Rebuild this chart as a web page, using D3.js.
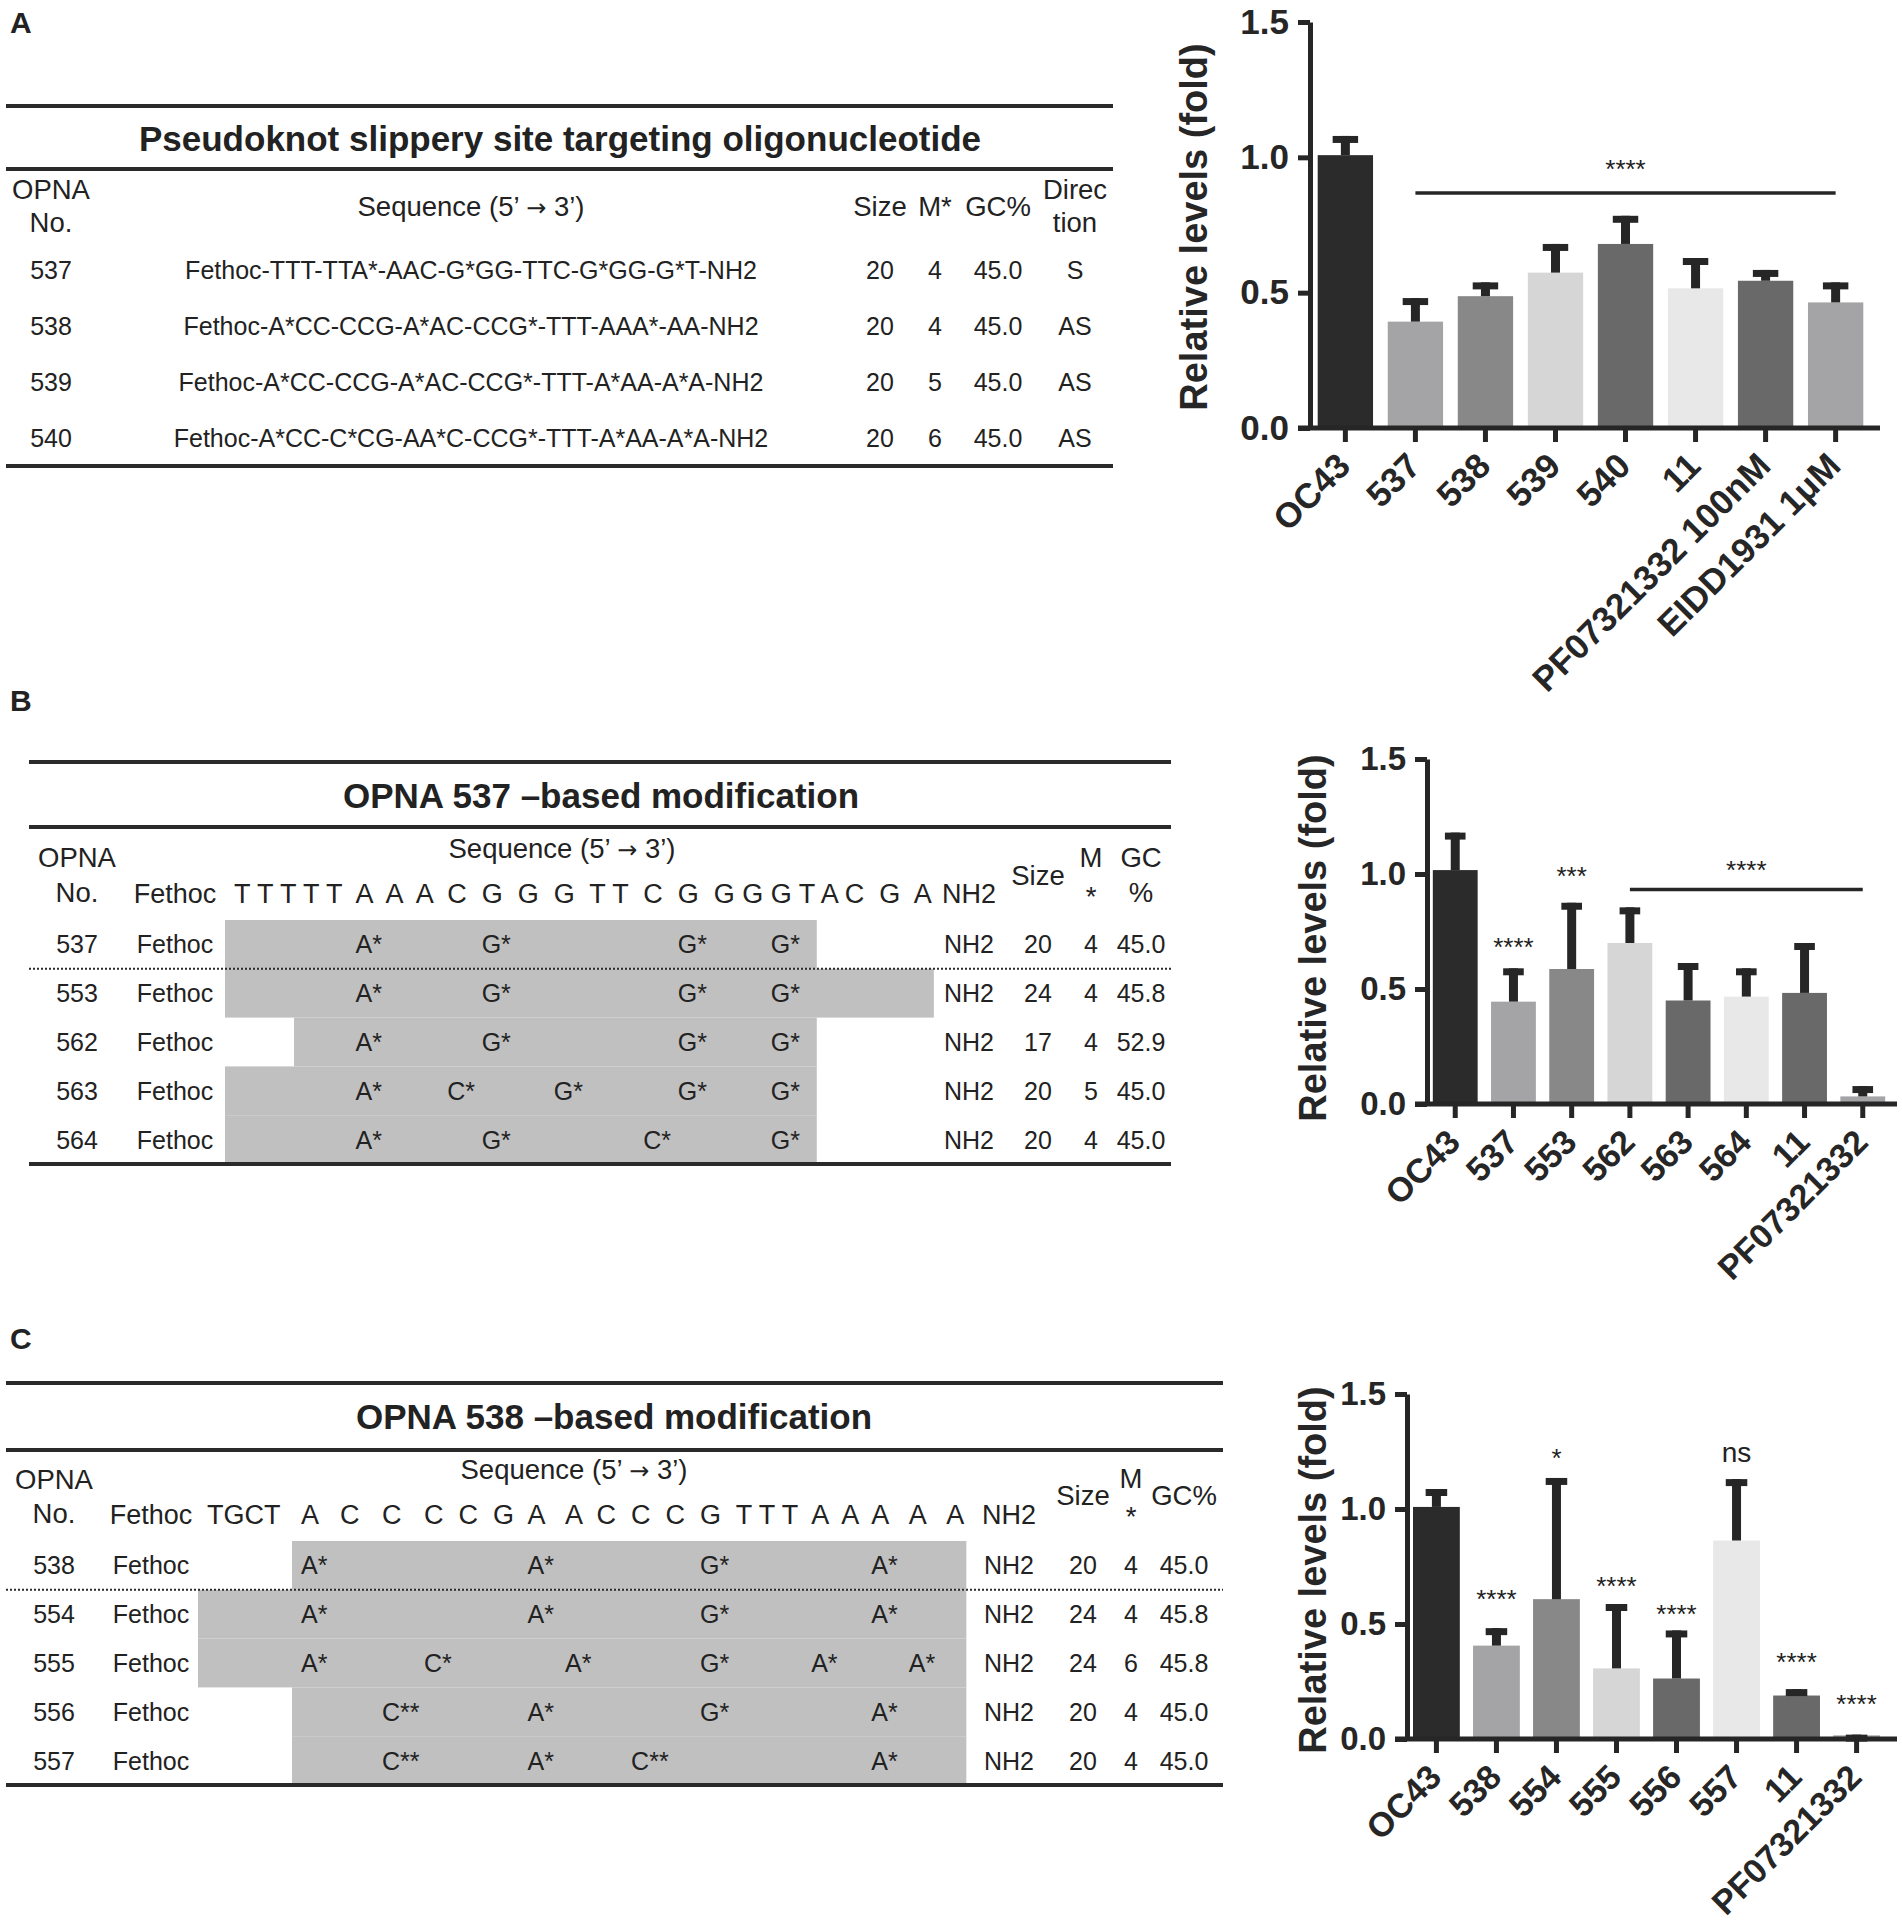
<!DOCTYPE html>
<html>
<head>
<meta charset="utf-8">
<script src="https://cdn.jsdelivr.net/npm/d3@7"></script>
<style>
  body { margin: 0; background: #fff; }
  svg text { font-family: 'Liberation Sans', Arial, Helvetica, sans-serif; fill: #222; }
</style>
</head>
<body>
<svg id="fig" width="1902" height="1926"></svg>
<script>
// ---------- panel A table ----------
const tabA_no   = ['537', '538', '539', '540'];
const tabA_seq  = ['Fethoc-TTT-TTA*-AAC-G*GG-TTC-G*GG-G*T-NH2',
                   'Fethoc-A*CC-CCG-A*AC-CCG*-TTT-AAA*-AA-NH2',
                   'Fethoc-A*CC-CCG-A*AC-CCG*-TTT-A*AA-A*A-NH2',
                   'Fethoc-A*CC-C*CG-AA*C-CCG*-TTT-A*AA-A*A-NH2'];
const tabA_size = [20, 20, 20, 20];
const tabA_m    = [4, 4, 5, 6];
const tabA_gc   = ['45.0', '45.0', '45.0', '45.0'];
const tabA_dir  = ['S', 'AS', 'AS', 'AS'];

// ---------- panel B table ----------
const tabB_header = 'T T T T T  A  A  A  C  G  G  G  T T  C  G  G G G T A C  G  A';
const tabB_no   = ['537', '553', '562', '563', '564'];
const tabB_from = [0, 0, 3, 0, 0];
const tabB_to   = [19, 23, 19, 19, 19];
const tabB_mods = [
  [[5, 'A*'], [9, 'G*'], [15, 'G*'], [18, 'G*']],
  [[5, 'A*'], [9, 'G*'], [15, 'G*'], [18, 'G*']],
  [[5, 'A*'], [9, 'G*'], [15, 'G*'], [18, 'G*']],
  [[5, 'A*'], [8, 'C*'], [11, 'G*'], [15, 'G*'], [18, 'G*']],
  [[5, 'A*'], [9, 'G*'], [14, 'C*'], [18, 'G*']]
];
const tabB_size = [20, 24, 17, 20, 20];
const tabB_m    = [4, 4, 4, 5, 4];
const tabB_gc   = ['45.0', '45.8', '52.9', '45.0', '45.0'];

// ---------- panel C table ----------
const tabC_header = 'TGCT   A   C   C   C  C  G  A   A  C  C  C  G  T T T  A  A  A   A   A';
const tabC_no   = ['538', '554', '555', '556', '557'];
const tabC_from = [4, 0, 0, 4, 4];
const tabC_to   = [23, 23, 23, 23, 23];
const tabC_mods = [
  [[4, 'A*'], [10, 'A*'], [15, 'G*'], [21, 'A*']],
  [[4, 'A*'], [10, 'A*'], [15, 'G*'], [21, 'A*']],
  [[4, 'A*'], [7, 'C*'], [11, 'A*'], [15, 'G*'], [19, 'A*'], [22, 'A*']],
  [[6, 'C**'], [10, 'A*'], [15, 'G*'], [21, 'A*']],
  [[6, 'C**'], [10, 'A*'], [13, 'C**'], [21, 'A*']]
];
const tabC_size = [20, 24, 24, 20, 20];
const tabC_m    = [4, 4, 6, 4, 4];
const tabC_gc   = ['45.0', '45.8', '45.8', '45.0', '45.0'];

// ---------- bar charts ----------
const catsA  = ['OC43', '537', '538', '539', '540', '11', 'PF07321332 100nM', 'EIDD1931 1μM'];
const meansA = [1.008, 0.393, 0.487, 0.574, 0.680, 0.516, 0.544, 0.464];
const sdA    = [0.071, 0.087, 0.051, 0.106, 0.104, 0.112, 0.040, 0.074];
const sigLinesA = [{ from: '537', to: 'EIDD1931 1μM', v: 0.868, label: '****', lv: 0.979 }];
const sigMarksA = [];

const catsB  = ['OC43', '537', '553', '562', '563', '564', '11', 'PF07321332'];
const meansB = [1.017, 0.445, 0.587, 0.700, 0.450, 0.467, 0.483, 0.033];
const sdB    = [0.163, 0.145, 0.288, 0.155, 0.163, 0.123, 0.217, 0.045];
const sigLinesB = [{ from: '562', to: 'PF07321332', v: 0.933, label: '****', lv: 1.042 }];
const sigMarksB = [{ cat: '537', label: '****', v: 0.708 }, { cat: '553', label: '***', v: 1.017 }];

const catsC  = ['OC43', '538', '554', '555', '556', '557', '11', 'PF07321332'];
const meansC = [1.009, 0.406, 0.608, 0.307, 0.263, 0.863, 0.189, 0.016];
const sdC    = [0.078, 0.076, 0.527, 0.280, 0.209, 0.267, 0.028, 0.003];
const sigLinesC = [];
const sigMarksC = [
  { cat: '538', label: '****', v: 0.635 }, { cat: '554', label: '*', v: 1.248 },
  { cat: '555', label: '****', v: 0.690 }, { cat: '556', label: '****', v: 0.570 },
  { cat: '557', label: 'ns', v: 1.240 },   { cat: '11', label: '****', v: 0.360 },
  { cat: 'PF07321332', label: '****', v: 0.180 }
];

const yTicks = [0, 0.5, 1.0, 1.5];

// grey shades used by the bars, in category order
const barFills = ['#2b2b2b', '#a4a4a7', '#888888', '#d6d6d6', '#696969', '#e8e8e8', '#696969', '#a4a4a7'];
const INK = '#262626';

const svg = d3.select('#fig');
svg.append('rect').attr('width', 1902).attr('height', 1926).attr('fill', '#fff');

function hline(y, x0, x1, w, dash) {
  svg.append('line')
    .attr('x1', x0).attr('x2', x1).attr('y1', y).attr('y2', y)
    .attr('stroke', '#2a2a2a').attr('stroke-width', w || 4)
    .attr('stroke-dasharray', dash || null);
}

function txt(x, y, s, size, anchor, weight) {
  return svg.append('text')
    .attr('x', x).attr('y', y)
    .attr('font-size', size)
    .attr('font-weight', weight || 'normal')
    .attr('text-anchor', anchor || 'middle')
    .text(s);
}

// "Sequence (5' -> 3')" with a proper long arrow
function seqHead(x, y) {
  const t = txt(x, y, null, 27.5);
  t.append('tspan').text('Sequence (5\u2019 ');
  t.append('tspan').attr('font-family', "'DejaVu Sans'").attr('font-size', 24).text('\u2192');
  t.append('tspan').text(' 3\u2019)');
}

// panel letters
txt(10, 33, 'A', 30, 'start', 'bold');
txt(10, 711, 'B', 30, 'start', 'bold');
txt(10, 1349, 'C', 30, 'start', 'bold');

// ---------- table A ----------
hline(106, 6, 1113);
txt(560, 151, 'Pseudoknot slippery site targeting oligonucleotide', 35, 'middle', 'bold');
hline(169, 6, 1113);
txt(51, 199, 'OPNA', 27.5);
txt(51, 232, 'No.', 27.5);
seqHead(471, 216);
txt(880, 216, 'Size', 27.5);
txt(935, 216, 'M*', 27.5);
txt(998, 216, 'GC%', 27.5);
txt(1075, 199, 'Direc', 27.5);
txt(1075, 232, 'tion', 27.5);

const rowA = d3.scaleBand().domain(tabA_no).range([242, 466]);
tabA_no.forEach((no, i) => {
  const yb = rowA(no) + rowA.bandwidth() / 2 + 9;
  txt(51, yb, no, 25);
  txt(471, yb, tabA_seq[i], 25);
  txt(880, yb, tabA_size[i], 25);
  txt(935, yb, tabA_m[i], 25);
  txt(998, yb, tabA_gc[i], 25);
  txt(1075, yb, tabA_dir[i], 25);
});
hline(466, 6, 1113);

// ---------- modification tables (B, C) ----------
function seqTable(t) {
  const shade = svg.append('g');
  // header letters, then read where every base sits
  const hdr = svg.append('text')
    .attr('x', t.letterX).attr('y', t.headY)
    .attr('font-size', 27)
    .attr('xml:space', 'preserve')
    .style('white-space', 'pre')
    .text(t.header);
  const node = hdr.node();
  const pos = [];
  for (let i = 0; i < t.header.length; i++) {
    if (t.header[i] === ' ') continue;
    const e = node.getExtentOfChar(i);
    pos.push({ x: e.x, w: e.width });
  }

  const row = d3.scaleBand().domain(t.no).range([t.rowTop, t.rowBottom]);
  t.no.forEach((no, i) => {
    const a = pos[t.from[i]], b = pos[t.to[i]];
    shade.append('rect')
      .attr('x', a.x - 9).attr('width', b.x + b.w + 2 - (a.x - 9))
      .attr('y', row(no)).attr('height', row.bandwidth())
      .attr('fill', '#c0c0c0');
    const yb = row(no) + row.bandwidth() / 2 + 9;
    txt(t.noX, yb, no, 25);
    txt(t.fethocX, yb, 'Fethoc', 25);
    t.mods[i].forEach(m => txt(pos[m[0]].x, yb, m[1], 25, 'start'));
    txt(t.nh2X, yb, 'NH2', 25);
    txt(t.sizeX, yb, t.size[i], 25);
    txt(t.mX, yb, t.m[i], 25);
    txt(t.gcX, yb, t.gc[i], 25);
  });
  hline(t.rowTop + row.bandwidth(), t.x0, t.x1, 2, '2,2');
  hline(t.rowBottom, t.x0, t.x1);
}

// table B
hline(762, 29, 1171);
txt(601, 808, 'OPNA 537 \u2013based modification', 35, 'middle', 'bold');
hline(827, 29, 1171);
seqHead(562, 858);
txt(77, 867, 'OPNA', 27.5);
txt(77, 902, 'No.', 27.5);
txt(175, 903, 'Fethoc', 27);
txt(969, 903, 'NH2', 27);
txt(1038, 885, 'Size', 27.5);
txt(1091, 867, 'M', 27.5);
txt(1091, 906, '*', 27.5);
txt(1141, 867, 'GC', 27.5);
txt(1141, 902, '%', 27.5);
seqTable({
  header: tabB_header, letterX: 234, headY: 903,
  no: tabB_no, from: tabB_from, to: tabB_to, mods: tabB_mods,
  size: tabB_size, m: tabB_m, gc: tabB_gc,
  rowTop: 920, rowBottom: 1164, x0: 29, x1: 1171,
  noX: 77, fethocX: 175, nh2X: 969, sizeX: 1038, mX: 1091, gcX: 1141
});

// table C
hline(1383, 6, 1223);
txt(614, 1429, 'OPNA 538 \u2013based modification', 35, 'middle', 'bold');
hline(1450, 6, 1223);
seqHead(574, 1479);
txt(54, 1489, 'OPNA', 27.5);
txt(54, 1523, 'No.', 27.5);
txt(151, 1524, 'Fethoc', 27);
txt(1009, 1524, 'NH2', 27);
txt(1083, 1505, 'Size', 27.5);
txt(1131, 1488, 'M', 27.5);
txt(1131, 1526, '*', 27.5);
txt(1184, 1505, 'GC%', 27.5);
seqTable({
  header: tabC_header, letterX: 207, headY: 1524,
  no: tabC_no, from: tabC_from, to: tabC_to, mods: tabC_mods,
  size: tabC_size, m: tabC_m, gc: tabC_gc,
  rowTop: 1541, rowBottom: 1785, x0: 6, x1: 1223,
  noX: 54, fethocX: 151, nh2X: 1009, sizeX: 1083, mX: 1131, gcX: 1184
});

// ---------- bar charts ----------
function barChart(c) {
  const g = svg.append('g').attr('color', INK);
  const x = d3.scaleBand().domain(c.cats).range([c.axisX, c.x1])
    .paddingInner(c.inner).paddingOuter(c.outer);
  const y = d3.scaleLinear().domain([0, 1.5]).range([c.y0, c.yTop]);
  const bw = x.bandwidth();
  const cx = d => x(d) + bw / 2;

  g.selectAll('rect.bar').data(c.cats).join('rect')
    .attr('class', 'bar')
    .attr('x', d => x(d)).attr('width', bw)
    .attr('y', (d, i) => y(c.means[i]))
    .attr('height', (d, i) => y(0) - y(c.means[i]))
    .attr('fill', (d, i) => barFills[i]);

  // upper error bars
  const capW = bw * 0.46;
  g.selectAll('line.stem').data(c.cats).join('line')
    .attr('class', 'stem')
    .attr('x1', cx).attr('x2', cx)
    .attr('y1', (d, i) => y(c.means[i]))
    .attr('y2', (d, i) => y(c.means[i] + c.sds[i]))
    .attr('stroke', INK).attr('stroke-width', 9);
  g.selectAll('line.cap').data(c.cats).join('line')
    .attr('class', 'cap')
    .attr('x1', d => cx(d) - capW / 2).attr('x2', d => cx(d) + capW / 2)
    .attr('y1', (d, i) => y(c.means[i] + c.sds[i]) + 3.5)
    .attr('y2', (d, i) => y(c.means[i] + c.sds[i]) + 3.5)
    .attr('stroke', INK).attr('stroke-width', 7);

  // y axis
  const ya = g.append('g').attr('transform', `translate(${c.axisX},0)`)
    .call(d3.axisLeft(y).tickValues(yTicks).tickFormat(d3.format('.1f'))
      .tickSize(12).tickPadding(9).tickSizeOuter(0));
  ya.selectAll('path, line').attr('stroke-width', 5);
  ya.selectAll('text').attr('font-size', c.yFont).attr('font-weight', 'bold')
    .style('fill', INK).attr('font-family', null);

  // x axis
  g.append('line')
    .attr('x1', c.axisX - 12).attr('x2', c.xEnd)
    .attr('y1', c.y0).attr('y2', c.y0)
    .attr('stroke', INK).attr('stroke-width', 5);
  const xa = g.append('g').attr('transform', `translate(0,${c.y0})`)
    .call(d3.axisBottom(x).tickSize(14).tickSizeOuter(0));
  xa.select('.domain').remove();
  xa.selectAll('line').attr('stroke-width', 5);
  xa.selectAll('text')
    .attr('y', 0).attr('dy', 0)
    .attr('text-anchor', 'end')
    .attr('transform', `translate(7,${c.labelDrop}) rotate(-45)`)
    .attr('font-size', c.xFont).attr('font-weight', 'bold')
    .style('fill', INK).attr('font-family', null);

  // y title
  g.append('text')
    .attr('transform', `translate(${c.titleX},${c.titleY}) rotate(-90)`)
    .attr('text-anchor', 'middle').attr('dominant-baseline', 'central')
    .attr('font-size', 38).attr('font-weight', 'bold')
    .style('fill', INK)
    .text('Relative levels (fold)');

  // significance
  const sigText = (xp, v, label) => g.append('text')
    .attr('x', xp)
    .attr('y', y(v) + (label === 'ns' ? 8 : 15))
    .attr('text-anchor', 'middle')
    .attr('font-size', label === 'ns' ? 28 : 26)
    .text(label);
  c.sigLines.forEach(s => {
    g.append('line')
      .attr('x1', cx(s.from)).attr('x2', cx(s.to))
      .attr('y1', y(s.v)).attr('y2', y(s.v))
      .attr('stroke', INK).attr('stroke-width', 3.5);
    sigText((cx(s.from) + cx(s.to)) / 2, s.lv, s.label);
  });
  c.sigMarks.forEach(s => sigText(cx(s.cat), s.v, s.label));
}

barChart({
  cats: catsA, means: meansA, sds: sdA, sigLines: sigLinesA, sigMarks: sigMarksA,
  axisX: 1310, x1: 1871, inner: 0.21, outer: 0.11, xEnd: 1880,
  y0: 428, yTop: 22, yFont: 35, xFont: 35, labelDrop: 40,
  titleX: 1194, titleY: 227
});
barChart({
  cats: catsB, means: meansB, sds: sdB, sigLines: sigLinesB, sigMarks: sigMarksB,
  axisX: 1427, x1: 1891, inner: 0.23, outer: 0.10, xEnd: 1897,
  y0: 1104, yTop: 759, yFont: 33, xFont: 34, labelDrop: 40,
  titleX: 1313, titleY: 938
});
barChart({
  cats: catsC, means: meansC, sds: sdC, sigLines: sigLinesC, sigMarks: sigMarksC,
  axisX: 1407, x1: 1886, inner: 0.22, outer: 0.10, xEnd: 1897,
  y0: 1739, yTop: 1394, yFont: 33, xFont: 34, labelDrop: 40,
  titleX: 1313, titleY: 1570
});
</script>
</body>
</html>
